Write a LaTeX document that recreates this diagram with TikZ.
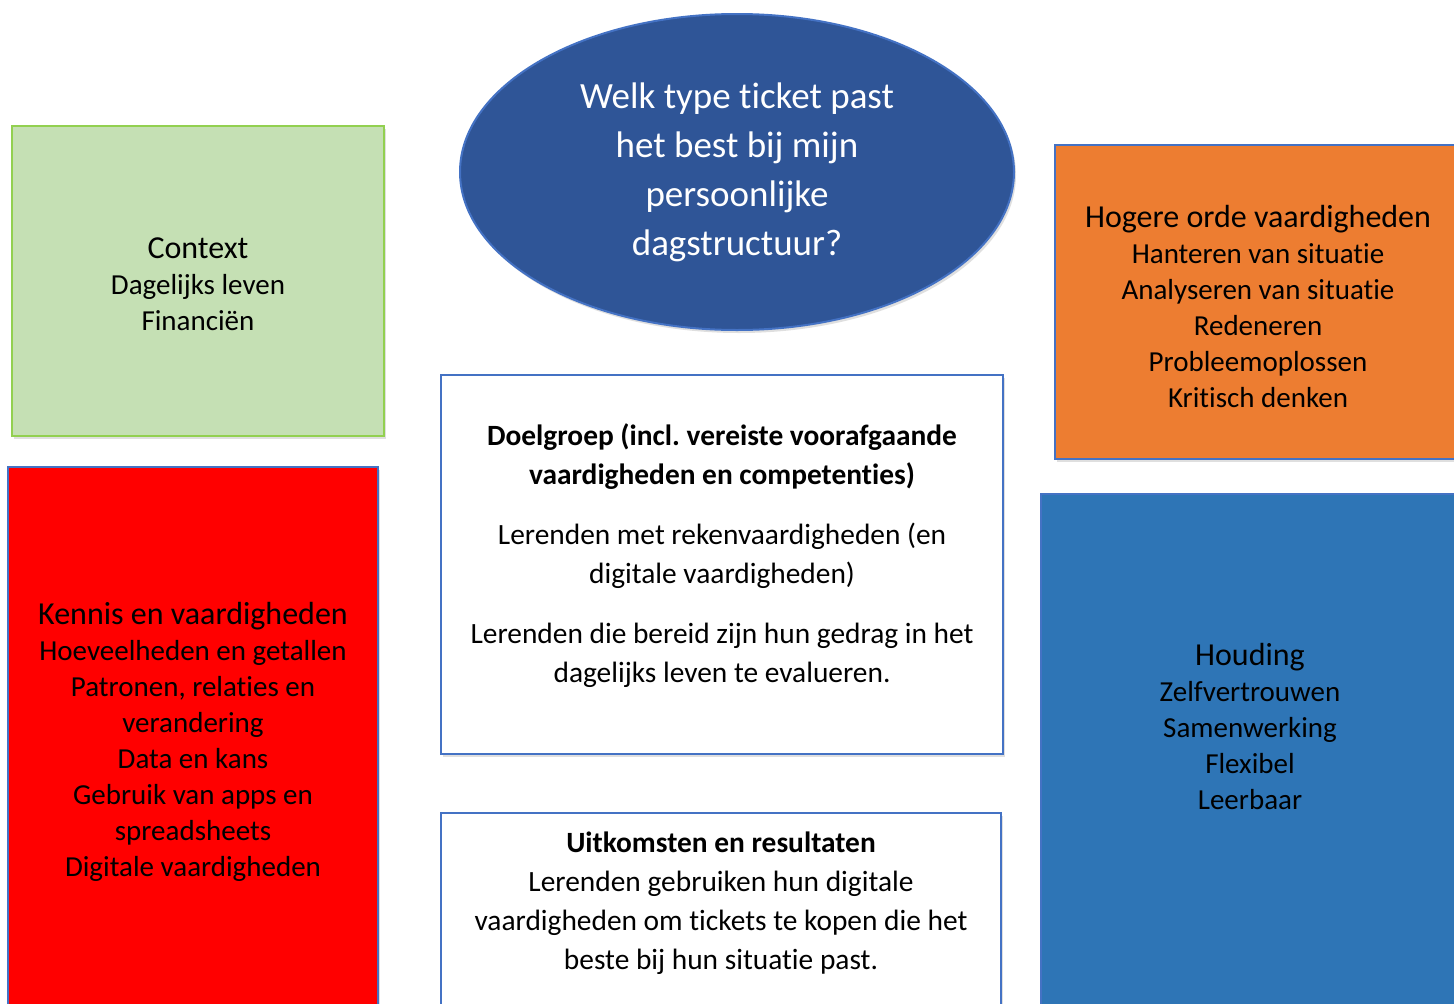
\documentclass[tikz,border=0pt]{standalone}
\usepackage{fontspec}
\setmainfont[Ligatures={NoCommon,NoContextual,NoRare},Contextuals={NoAlternate}]{Carlito}
\usetikzlibrary{shapes.geometric,shadows}
\definecolor{bordblue}{HTML}{4472C4}
\definecolor{ctxgreen}{HTML}{C5E0B4}
\definecolor{ctxborder}{HTML}{92D050}
\definecolor{ellfill}{HTML}{2F5597}
\definecolor{orangefill}{HTML}{ED7D31}
\definecolor{bluefill}{HTML}{2E75B6}
\frenchspacing
\begin{document}
\begin{tikzpicture}[x=1pt,y=-1pt,
  box/.style={draw=bordblue, line width=2pt, inner sep=0pt,
    drop shadow={shadow xshift=2pt,shadow yshift=-3pt,opacity=0.25}},
  txt/.style={align=center, inner sep=0pt, text=black, font=\fontsize{29}{36}\selectfont}]
\useasboundingbox (0,0) rectangle (1454,1004);
\clip (0,0) rectangle (1454,1004);
\fill[white] (0,0) rectangle (1454,1004);

% shapes
\node[box, draw=ctxborder, fill=ctxgreen, minimum width=372pt, minimum height=310pt] (ctx) at (198,281) {};
\node[box, fill=red, minimum width=370pt, minimum height=573pt] (ken) at (193,753.5) {};
\node[box, ellipse, fill=ellfill, minimum width=554pt, minimum height=316pt] (q) at (737,172) {};
\node[box, fill=white, minimum width=562pt, minimum height=379pt] (doel) at (722,564.5) {};
\node[box, fill=white, minimum width=560pt, minimum height=227pt] (uit) at (721,926.5) {};
\node[box, fill=orangefill, minimum width=425pt, minimum height=314pt] (hog) at (1267.5,302) {};
\node[box, fill=bluefill, minimum width=439pt, minimum height=546pt] (hou) at (1260.5,767) {};

% texts
\node[txt] (ctxT) at (198,284) {{\fontsize{32}{37}\selectfont Context}\\Dagelijks leven\\Financiën};
\node[txt] (kenT) at (193,742) {{\fontsize{32}{37}\selectfont Kennis en vaardigheden}\\Hoeveelheden en getallen\\Patronen, relaties en\\verandering\\Data en kans\\Gebruik van apps en\\spreadsheets\\Digitale vaardigheden};
\node[txt, text=white, font=\fontsize{37}{49}\selectfont] (qT) at (737,172) {Welk type ticket past\\het best bij mijn\\persoonlijke\\dagstructuur?};
\node[txt, font=\fontsize{29.4}{39}\selectfont] (doelT) at (722,556) {\textbf{Doelgroep (incl. vereiste voorafgaande}\\\textbf{vaardigheden en competenties)}\\[21pt]Lerenden met rekenvaardigheden (en\\digitale vaardigheden)\\[21pt]Lerenden die bereid zijn hun gedrag in het\\dagelijks leven te evalueren.};
\node[txt, font=\fontsize{29.4}{39}\selectfont] (uitT) at (721,903) {\textbf{Uitkomsten en resultaten}\\Lerenden gebruiken hun digitale\\vaardigheden om tickets te kopen die het\\beste bij hun situatie past.};
\node[txt] (hogT) at (1258,306) {{\fontsize{32}{37}\selectfont Hogere orde vaardigheden}\\Hanteren van situatie\\Analyseren van situatie\\Redeneren\\Probleemoplossen\\Kritisch denken};
\node[txt] (houT) at (1250,726) {{\fontsize{32}{37}\selectfont Houding}\\Zelfvertrouwen\\Samenwerking\\Flexibel\\Leerbaar};
\end{tikzpicture}
\end{document}
